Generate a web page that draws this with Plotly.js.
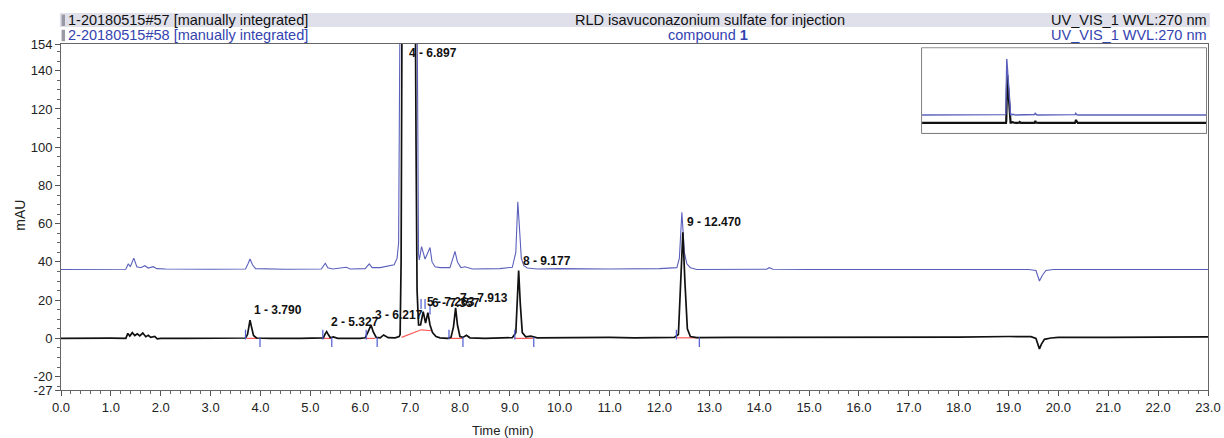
<!DOCTYPE html>
<html>
<head>
<meta charset="utf-8">
<script src="https://cdn.plot.ly/plotly-3.0.1.min.js"></script>
<style>html,body{margin:0;padding:0;background:#fff;}#chart{width:1224px;height:438px;}</style>
</head>
<body>
<div id="chart"></div>
<script>
// ---- Data ----
const timeBlack = [0.0,0.3,0.6,1.0,1.30,1.34,1.38,1.43,1.48,1.53,1.58,1.64,1.70,1.75,1.80,1.88,1.93,2.0,2.5,3.0,3.5,
  3.70,3.74,3.77,3.79,3.82,3.86,3.92,4.2,4.8,5.20,5.26,5.30,5.327,5.36,5.40,5.46,5.55,6.0,
  6.10,6.16,6.217,6.26,6.32,6.40,6.47,6.56,6.70,6.78,6.80,6.82,6.835,6.897,6.95,7.05,7.10,7.12,7.14,7.17,
  7.21,7.263,7.31,7.357,7.40,7.45,7.52,7.6,7.75,7.82,7.87,7.913,7.95,8.0,8.06,8.13,8.20,8.5,8.9,
  9.05,9.12,9.15,9.177,9.21,9.25,9.32,9.42,9.55,10.0,10.5,11.0,11.5,12.0,12.30,12.38,12.43,12.47,
  12.51,12.56,12.62,12.75,13.5,14.2,15.0,16.0,17.0,18.0,19.0,19.45,19.55,19.62,19.66,19.72,19.85,20.0,21.0,22.0,23.0];
const mauBlack = [0,0.1,0,0.1,0,2.6,1.2,3.0,1.5,2.4,1.3,2.8,0.9,1.6,0.5,1.0,-0.3,0,0,0,0,
  0.2,2,7,9.5,6,1.5,0.2,0,0,0,0.3,2.5,3.5,2,0.3,0.8,0,0,
  0.3,3.5,7,3.5,0.5,0.3,1.8,0.4,0.3,1,2,40,150,860,700,400,200,100,25,7,
  7,14,8,13.5,7,3,1,0.3,0,0.5,6,16,7,1,0.5,1.6,0.3,0,0.2,
  0.4,3,20,35.5,18,3,0.8,1.2,0.3,0.4,0.3,0.5,0.3,0.3,0.5,2,30,55.5,
  30,5,1,0.4,0.5,0.5,0.8,0.6,0.6,0.7,1.0,0.9,0,-5.5,-3,-0.5,0.2,0.5,0.5,0.5,0.8];

const timeBlue = [0.0,1.0,1.30,1.35,1.39,1.46,1.52,1.60,1.68,1.75,1.85,1.92,2.1,3.0,3.70,3.75,3.79,3.84,3.90,4.5,
  5.22,5.30,5.35,5.45,5.72,5.80,6.10,6.18,6.24,6.40,6.60,6.68,6.74,6.77,6.795,6.86,6.95,7.10,7.14,7.155,
  7.17,7.185,7.23,7.30,7.40,7.44,7.50,7.60,7.80,7.86,7.90,7.95,8.02,8.10,8.25,8.8,9.05,9.12,9.16,9.20,9.23,
  9.28,9.35,9.55,10.0,11.0,12.0,12.35,12.40,12.45,12.50,12.55,12.62,12.75,13.2,14.15,14.2,14.28,15.0,16.0,17.0,
  18.0,19.4,19.55,19.62,19.68,19.75,19.9,21.0,23.0];
const mauBlue = [36,36,36.2,39,37.5,42,37.5,37,38,36.8,37.5,36.5,36.3,36.2,36.3,39,41.5,38.5,36.5,36.2,
  36.3,39.3,37,36.3,37.2,36.3,36.5,39,37,37,38,38.5,42,50,160,1040,800,350,160,70,
  44,41,48,41.5,47.5,40,37.5,37,37,42,45.5,40,37,37.5,36.3,36.5,37.2,45,71.5,55,42,
  38,36.8,36.3,36.5,36.3,36.5,37,42,66,45,39,37,36,36,36.2,37,36.2,36,36,36.2,
  36,36,35.5,30,33,35.5,36,36,36];

// Peak annotations (black trace)
const peakNames = ["1 - 3.790","2 - 5.327","3 - 6.217","4 - 6.897","5 - 7.263","6 - 7.357","7 - 7.913","8 - 9.177","9 - 12.470"];
const peakTimes = [3.790,5.327,6.217,6.897,7.263,7.357,7.913,9.177,12.470];
const peakHeights = [9.5,3.5,7,860,14,13.5,16,35.5,55.5];

// Integration baselines (red) and delimiter ticks (blue)
const baseT = [3.72,3.95,null,5.26,5.42,null,6.12,6.30,null,6.83,7.22,7.43,null,7.76,8.06,null,9.10,9.46,null,12.35,12.78];
const baseV = [0,0,null,0,0,null,0,0,null,0.5,4.5,4,null,0,0,null,0,0,null,0.3,0.3];
const tickT = [3.70,3.99,5.25,5.43,6.12,6.34,7.22,7.30,7.40,7.78,8.06,9.10,9.48,12.34,12.80];
const tickV = [2,-2,2,-2,2,-2,18,18,15,2,-2,2,-2,2,-2];

// Axis tick labels
const yTickVals = [-27,-20,0,20,40,60,80,100,120,140,154];
const yTickText = ["-27","-20","0","20","40","60","80","100","120","140","154"];

// Header texts
const header1Left = "1-20180515#57 [manually integrated]";
const header2Left = "2-20180515#58 [manually integrated]";
const header1Mid = "RLD isavuconazonium sulfate for injection";
const header2Mid = "compound <b>1</b>";
const headerRight = "UV_VIS_1 WVL:270 nm";

// ---- Styles ----
const FONT = "Arial, 'Liberation Sans', sans-serif";
const BLACK = "#111111";
const BLUE = "#5a60bb";
const BLUE_TXT = "#3343b0";

const traces = [
  {x: timeBlue, y: mauBlue, type: "scatter", mode: "lines", line: {color: BLUE, width: 1.1}, hoverinfo: "skip"},
  {x: baseT, y: baseV, type: "scatter", mode: "lines", line: {color: "#ff5a5a", width: 1.2}, connectgaps: false, hoverinfo: "skip"},
  {x: timeBlack, y: mauBlack, type: "scatter", mode: "lines", line: {color: BLACK, width: 1.7}, hoverinfo: "skip"},
  {x: tickT, y: tickV, type: "scatter", mode: "markers", marker: {symbol: "line-ns-open", size: 7, color: "#4d5bd0", line: {width: 1.2, color: "#4d5bd0"}}, hoverinfo: "skip"},
  // inset overview (blue drawn on its own offset axis, as in the overview pane)
  {x: timeBlue, y: mauBlue, xaxis: "x2", yaxis: "y3", type: "scatter", mode: "lines", line: {color: BLUE, width: 1.4}, hoverinfo: "skip"},
  {x: timeBlack, y: mauBlack, xaxis: "x2", yaxis: "y2", type: "scatter", mode: "lines", line: {color: BLACK, width: 2.2}, hoverinfo: "skip"}
];

const annotations = [];
for (let i = 0; i < peakNames.length; i++) {
  const top = peakHeights[i] > 154;
  annotations.push({
    x: peakTimes[i], y: top ? 154 : peakHeights[i], xref: "x", yref: "y",
    text: "<b>" + peakNames[i] + "</b>", showarrow: false,
    xanchor: "left", yanchor: top ? "top" : "bottom", xshift: 2, yshift: top ? 0 : 1,
    font: {family: FONT, size: 12, color: BLACK}
  });
}
const hdr = (text, x, xanchor, yshift, color) => ({
  text: text, x: x, y: 1, xref: "paper", yref: "paper", xanchor: xanchor, yanchor: "middle",
  yshift: yshift, showarrow: false, borderpad: 0, font: {family: FONT, size: 14.5, color: color}
});
annotations.push(hdr(header1Left, 0.005, "left", 24, "#111"));
annotations.push(hdr(header2Left, 0.005, "left", 9, BLUE_TXT));
annotations.push(hdr(header1Mid, 0.566, "center", 24, "#111"));
annotations.push(hdr(header2Mid, 0.564, "center", 9, BLUE_TXT));
annotations.push(hdr(headerRight, 1.0, "right", 24, "#111"));
annotations.push(hdr(headerRight, 1.0, "right", 9, BLUE_TXT));
annotations.push({text: "mAU", x: -0.036, y: 0.506, xref: "paper", yref: "paper", textangle: -90,
  showarrow: false, xanchor: "center", yanchor: "middle", font: {family: FONT, size: 14, color: "#222"}});
annotations.push({text: "Time (min)", x: 0.385, y: 0, xref: "paper", yref: "paper", yshift: -40,
  showarrow: false, xanchor: "center", yanchor: "middle", font: {family: FONT, size: 13, color: "#222"}});

const shapes = [
  {type: "rect", xref: "paper", yref: "paper", x0: -0.001, x1: 1.0017, y0: 1.049, y1: 1.0896,
   fillcolor: "#dfe0ea", line: {width: 0}, layer: "below"},
  {type: "rect", xref: "paper", yref: "paper", x0: 0.0005, x1: 0.0035, y0: 1.052, y1: 1.085,
   fillcolor: "#9a9aa4", line: {width: 0}},
  {type: "rect", xref: "paper", yref: "paper", x0: 0.0005, x1: 0.0035, y0: 1.008, y1: 1.041,
   fillcolor: "#9a9aa4", line: {width: 0}},
  {type: "rect", xref: "paper", yref: "paper", x0: 0.7507, x1: 0.9983, y0: 0.743, y1: 0.988,
   fillcolor: "#ffffff", line: {color: "#555", width: 1.5}, layer: "below"}
];

const layout = {
  width: 1224, height: 438,
  margin: {l: 61, r: 16, t: 44, b: 48, pad: 0},
  paper_bgcolor: "#ffffff", plot_bgcolor: "#ffffff",
  showlegend: false,
  font: {family: FONT, size: 13, color: "#222"},
  xaxis: {
    range: [0, 23], tickmode: "linear", tick0: 0, dtick: 1, tickformat: ".1f",
    ticks: "outside", ticklen: 5, tickcolor: "#555", showgrid: false, zeroline: false,
    showline: true, linecolor: "#666", linewidth: 1, mirror: true,
    minor: {tickmode: "linear", tick0: 0, dtick: 0.2, ticks: "outside", ticklen: 3, tickcolor: "#666", showgrid: false},
    tickfont: {family: FONT, size: 13, color: "#222"}, fixedrange: true
  },
  yaxis: {
    range: [-27, 154], tickmode: "array", tickvals: yTickVals, ticktext: yTickText,
    ticks: "outside", ticklen: 5, tickcolor: "#555", showgrid: false, zeroline: false,
    showline: true, linecolor: "#666", linewidth: 1, mirror: true,
    minor: {tickmode: "linear", tick0: 0, dtick: 5, ticks: "outside", ticklen: 3, tickcolor: "#666", showgrid: false},
    tickfont: {family: FONT, size: 13, color: "#222"}, fixedrange: true
  },
  xaxis2: {domain: [0.7507, 0.9983], anchor: "y2", range: [0, 23], visible: false, fixedrange: true},
  yaxis2: {domain: [0.743, 0.988], anchor: "x2", range: [-179, 1343], visible: false, fixedrange: true},
  yaxis3: {overlaying: "y2", anchor: "x2", range: [-286, 1236], visible: false, fixedrange: true},
  annotations: annotations,
  shapes: shapes
};

Plotly.newPlot("chart", traces, layout, {staticPlot: true, displayModeBar: false});
</script>
</body>
</html>
